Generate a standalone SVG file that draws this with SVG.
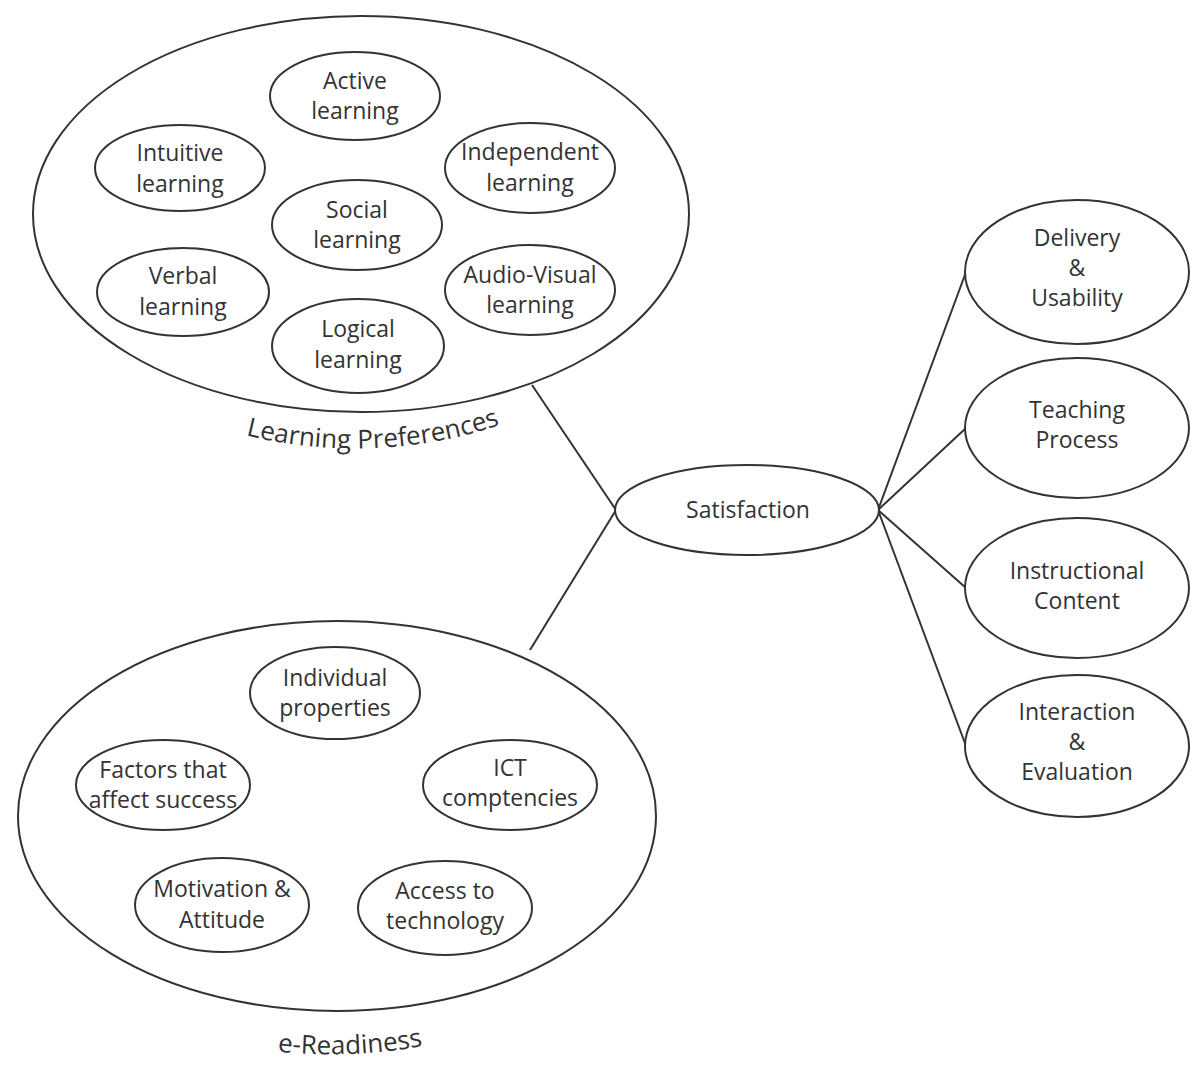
<svg xmlns="http://www.w3.org/2000/svg" width="1200" height="1065" viewBox="0 0 1200 1065">
<style>
  .bg { fill: #ffffff; }
  .node ellipse { fill: #ffffff; stroke: #333333; stroke-width: 2; }
  .conn line { stroke: #333333; stroke-width: 2; }
  text { font-family: "Open Sans", "Noto Sans", sans-serif; font-size: 23px; fill: #333333; text-anchor: middle; }
  .cap { font-size: 26px; }
</style>
<defs>
  <path id="lpArc" d="M 220 428 A 300 190 0 0 0 525 415"/>
  <path id="erArc" d="M 250 1048 A 280 150 0 0 0 450 1040"/>
</defs>
<rect class="bg" x="0" y="0" width="1200" height="1065"/>

<g id="connectors" class="conn">
  <line x1="532" y1="385" x2="616" y2="510"/>
  <line x1="530" y1="650" x2="616" y2="510"/>
  <line x1="878" y1="510" x2="966" y2="272"/>
  <line x1="878" y1="510" x2="966" y2="428"/>
  <line x1="878" y1="510" x2="966" y2="588"/>
  <line x1="878" y1="510" x2="966" y2="746"/>
</g>

<g id="learning-preferences" class="node">
  <ellipse cx="361" cy="214" rx="328" ry="198"/>
  <text class="cap"><textPath href="#lpArc" startOffset="50%">Learning Preferences</textPath></text>
</g>
<g id="active-learning" class="node">
  <ellipse cx="355" cy="96" rx="85" ry="44"/>
  <text x="355" y="89">Active</text><text x="355" y="119">learning</text>
</g>
<g id="intuitive-learning" class="node">
  <ellipse cx="180" cy="168" rx="85" ry="43"/>
  <text x="180" y="161">Intuitive</text><text x="180" y="192">learning</text>
</g>
<g id="independent-learning" class="node">
  <ellipse cx="530" cy="168" rx="85" ry="45"/>
  <text x="530" y="160">Independent</text><text x="530" y="191">learning</text>
</g>
<g id="social-learning" class="node">
  <ellipse cx="357" cy="225" rx="85" ry="45"/>
  <text x="357" y="218">Social</text><text x="357" y="248">learning</text>
</g>
<g id="verbal-learning" class="node">
  <ellipse cx="183" cy="292" rx="86" ry="44"/>
  <text x="183" y="284">Verbal</text><text x="183" y="315">learning</text>
</g>
<g id="audio-visual-learning" class="node">
  <ellipse cx="530" cy="290" rx="85" ry="45"/>
  <text x="530" y="283">Audio-Visual</text><text x="530" y="313">learning</text>
</g>
<g id="logical-learning" class="node">
  <ellipse cx="358" cy="346" rx="86" ry="47"/>
  <text x="358" y="337">Logical</text><text x="358" y="368">learning</text>
</g>

<g id="e-readiness" class="node">
  <ellipse cx="337" cy="816" rx="319" ry="195"/>
  <text class="cap"><textPath href="#erArc" startOffset="50%">e-Readiness</textPath></text>
</g>
<g id="individual-properties" class="node">
  <ellipse cx="335" cy="693" rx="85" ry="46"/>
  <text x="335" y="686">Individual</text><text x="335" y="716">properties</text>
</g>
<g id="factors-success" class="node">
  <ellipse cx="163" cy="785" rx="87" ry="45"/>
  <text x="163" y="778">Factors that</text><text x="163" y="808">affect success</text>
</g>
<g id="ict-competencies" class="node">
  <ellipse cx="510" cy="785" rx="87" ry="45"/>
  <text x="510" y="776">ICT</text><text x="510" y="806">comptencies</text>
</g>
<g id="motivation-attitude" class="node">
  <ellipse cx="222" cy="905" rx="87" ry="47"/>
  <text x="222" y="897">Motivation &amp;</text><text x="222" y="928">Attitude</text>
</g>
<g id="access-technology" class="node">
  <ellipse cx="445" cy="908" rx="87" ry="47"/>
  <text x="445" y="899">Access to</text><text x="445" y="929">technology</text>
</g>

<g id="satisfaction" class="node">
  <ellipse cx="747" cy="510" rx="132" ry="45"/>
  <text x="748" y="518">Satisfaction</text>
</g>

<g id="delivery-usability" class="node">
  <ellipse cx="1077" cy="272" rx="112" ry="72"/>
  <text x="1077" y="246">Delivery</text><text x="1077" y="276">&amp;</text><text x="1077" y="306">Usability</text>
</g>
<g id="teaching-process" class="node">
  <ellipse cx="1077" cy="428" rx="112" ry="70"/>
  <text x="1077" y="418">Teaching</text><text x="1077" y="448">Process</text>
</g>
<g id="instructional-content" class="node">
  <ellipse cx="1077" cy="588" rx="112" ry="70"/>
  <text x="1077" y="579">Instructional</text><text x="1077" y="609">Content</text>
</g>
<g id="interaction-evaluation" class="node">
  <ellipse cx="1077" cy="746" rx="112" ry="71"/>
  <text x="1077" y="720">Interaction</text><text x="1077" y="750">&amp;</text><text x="1077" y="780">Evaluation</text>
</g>
</svg>
